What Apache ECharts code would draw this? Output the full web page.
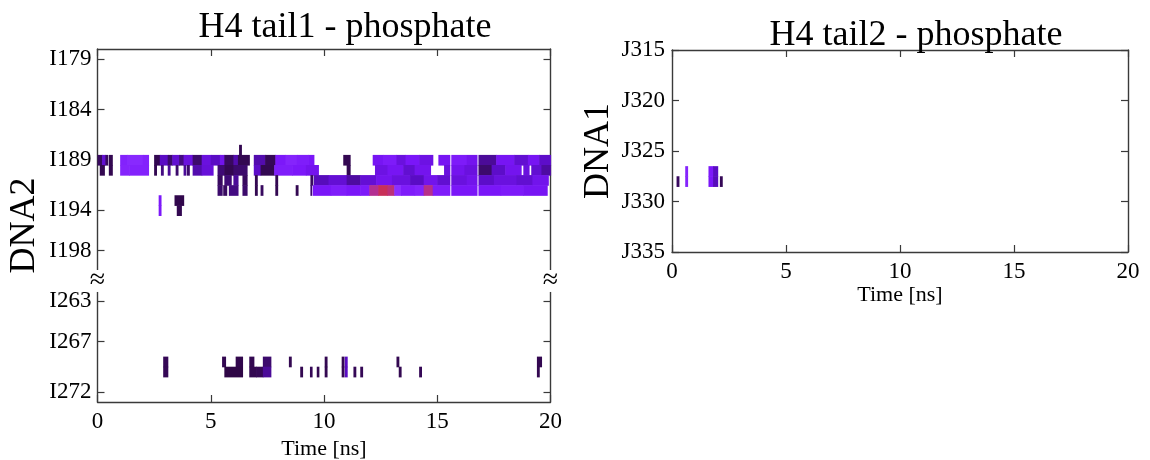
<!DOCTYPE html>
<html>
<head>
<meta charset="utf-8">
<script src="https://cdn.jsdelivr.net/npm/echarts@6/dist/echarts.min.js"></script>
<style>
  html, body { margin: 0; padding: 0; background: #fff; }
  #chart { width: 1150px; height: 460px; }
</style>
</head>
<body>
<div id="chart"></div>
<script>
// ---- Axis ranges and tick labels ----
const timeRange = [0, 20];
const tail1UpperRange = [178, 200];   // residues above the axis break
const tail1LowerRange = [262, 273];   // residues below the axis break
const tail1TickLabels = ['I179', 'I184', 'I189', 'I194', 'I198', 'I263', 'I267', 'I272'];
const tail2Range = [315, 335];

// ---- H4 tail1 contacts with DNA2: [start ns, end ns, intensity] per residue ----
const rowI188 = [[6.25, 6.35, 0.1]];
const rowI189 = [
  [0.0, 0.2, 0.15], [0.2, 0.35, 0.45], [0.35, 0.45, 0.15], [0.5, 0.65, 0.1],
  [1.0, 1.3, 0.7], [1.3, 2.0, 0.76], [2.0, 2.25, 0.7],
  [2.5, 2.75, 0.1], [2.75, 3.1, 0.4], [3.1, 3.3, 0.2], [3.3, 3.6, 0.45], [3.6, 3.8, 0.25],
  [3.8, 4.2, 0.5], [4.2, 4.6, 0.2], [4.6, 5.0, 0.5], [5.0, 5.4, 0.4], [5.4, 5.6, 0.55],
  [5.6, 6.0, 0.15], [6.0, 6.2, 0.35], [6.2, 6.7, 0.1],
  [6.9, 7.4, 0.35], [7.4, 7.85, 0.12], [7.85, 8.3, 0.62], [8.3, 8.8, 0.72], [8.8, 9.3, 0.66], [9.3, 9.55, 0.6],
  [10.85, 11.15, 0.1],
  [12.15, 12.6, 0.58], [12.6, 13.2, 0.64], [13.2, 13.6, 0.5], [13.6, 14.2, 0.6], [14.2, 14.8, 0.52],
  [15.05, 15.55, 0.58], [15.62, 16.3, 0.64], [16.3, 16.75, 0.56], [16.82, 17.6, 0.3],
  [17.6, 18.4, 0.58], [18.4, 19.0, 0.45], [19.0, 19.5, 0.58], [19.5, 20.0, 0.42]
];
const rowI190 = [
  [0.1, 0.3, 0.1], [0.5, 0.65, 0.1],
  [1.0, 1.4, 0.72], [1.4, 2.25, 0.7],
  [2.5, 2.6, 0.1], [2.8, 2.9, 0.25], [3.1, 3.2, 0.3], [3.45, 3.55, 0.2], [3.8, 3.9, 0.3], [3.95, 4.05, 0.2],
  [4.2, 4.6, 0.35], [4.6, 5.1, 0.48], [5.3, 5.6, 0.22], [5.6, 6.0, 0.1], [6.0, 6.6, 0.2],
  [6.9, 7.2, 0.42], [7.2, 7.8, 0.1], [7.8, 8.6, 0.66], [8.6, 9.2, 0.62], [9.2, 9.75, 0.56],
  [11.0, 11.15, 0.1],
  [12.25, 12.8, 0.52], [12.8, 13.5, 0.58], [13.5, 14.0, 0.45], [14.0, 14.7, 0.56],
  [15.3, 15.55, 0.5], [15.62, 16.2, 0.56], [16.2, 16.75, 0.5], [16.82, 17.4, 0.2], [17.4, 18.0, 0.42],
  [18.0, 18.7, 0.56], [18.8, 19.05, 0.5], [19.15, 19.6, 0.45], [19.6, 20.0, 0.32]
];
const rowI191 = [
  [5.3, 5.5, 0.15], [5.6, 5.9, 0.22], [6.0, 6.2, 0.3], [6.4, 6.6, 0.15], [6.95, 7.05, 0.1], [7.85, 7.95, 0.1],
  [9.4, 9.5, 0.15], [9.55, 10.2, 0.38], [10.2, 11.0, 0.46], [11.0, 11.6, 0.32], [11.6, 12.3, 0.46],
  [12.3, 13.0, 0.56], [13.0, 13.8, 0.5], [13.8, 14.4, 0.4], [14.4, 15.0, 0.55], [15.0, 15.55, 0.45],
  [15.62, 16.3, 0.5], [16.3, 16.75, 0.55], [16.82, 17.5, 0.42], [17.5, 18.5, 0.5], [18.5, 19.2, 0.45], [19.2, 19.9, 0.55]
];
const rowI192 = [
  [5.3, 5.5, 0.2], [5.55, 5.7, 0.15], [5.8, 6.2, 0.25], [6.4, 6.6, 0.2], [6.95, 7.05, 0.1], [7.2, 7.3, 0.15],
  [7.85, 7.95, 0.1], [8.75, 8.85, 0.1],
  [9.4, 9.45, 0.2], [9.5, 10.3, 0.6], [10.3, 11.0, 0.66], [11.0, 11.6, 0.6], [11.6, 12.0, 0.63],
  [12.0, 12.4, 0.93], [12.4, 12.8, 1.0], [12.8, 13.1, 0.96], [13.1, 13.4, 0.8], [13.4, 14.0, 0.65],
  [14.0, 14.4, 0.7], [14.4, 14.8, 0.94], [14.8, 15.55, 0.65], [15.62, 16.75, 0.6], [16.82, 17.8, 0.6],
  [17.8, 18.8, 0.63], [18.8, 19.85, 0.58]
];
const rowI193 = [[2.7, 2.8, 0.62], [3.4, 3.8, 0.08]];
const rowI194 = [[2.7, 2.8, 0.62], [3.5, 3.7, 0.1]];
const rowI269 = [
  [2.9, 3.1, 0.12], [5.5, 5.65, 0.1], [6.1, 6.4, 0.08], [6.7, 6.9, 0.1], [7.3, 7.65, 0.2],
  [8.45, 8.55, 0.1], [10.03, 10.13, 0.1], [10.78, 10.88, 0.1], [10.92, 11.02, 0.4], [13.2, 13.3, 0.1], [19.4, 19.6, 0.1]
];
const rowI270 = [
  [2.9, 3.1, 0.12], [5.6, 6.4, 0.06], [6.7, 7.0, 0.1], [7.0, 7.3, 0.12], [7.3, 7.65, 0.3],
  [8.95, 9.05, 0.1], [9.38, 9.47, 0.12], [9.68, 9.77, 0.1], [10.03, 10.13, 0.1], [10.78, 10.88, 0.1],
  [10.92, 11.02, 0.4], [11.3, 11.4, 0.12], [11.6, 11.7, 0.12], [13.3, 13.4, 0.1], [14.2, 14.3, 0.12], [19.4, 19.5, 0.1]
];

// ---- H4 tail2 contacts with DNA1 ----
const rowJ327 = [[0.58, 0.68, 0.72], [1.6, 1.8, 0.62], [1.8, 2.0, 0.4]];
const rowJ328 = [[0.2, 0.3, 0.15], [0.58, 0.68, 0.72], [1.6, 1.8, 0.6], [1.8, 2.0, 0.38], [2.1, 2.2, 0.12]];

// ---- Build axis categories and series data ----
const BREAK = '\u2248';
const tail1Rows = [];
for (let r = tail1UpperRange[0]; r <= tail1UpperRange[1]; r++) tail1Rows.push('I' + r);
tail1Rows.push(BREAK);
for (let r = tail1LowerRange[0]; r <= tail1LowerRange[1]; r++) tail1Rows.push('I' + r);

function toItems(segments, row) {
  return segments.map(s => [s[0], s[1], row, s[2]]);
}
const tail1Data = [].concat(
  toItems(rowI188, 'I188'), toItems(rowI189, 'I189'), toItems(rowI190, 'I190'),
  toItems(rowI191, 'I191'), toItems(rowI192, 'I192'), toItems(rowI193, 'I193'),
  toItems(rowI194, 'I194'), toItems(rowI269, 'I269'), toItems(rowI270, 'I270')
);
const tail2Data = [].concat(toItems(rowJ327, 327), toItems(rowJ328, 328));

// ---- Styling ----
const FONT = "'Liberation Serif', 'Times New Roman', serif";
const AXIS_COLOR = '#3a3a3a';
const axisLine = { show: true, onZero: false, lineStyle: { color: AXIS_COLOR, width: 1.4 } };
const tick = { show: true, inside: true, length: 7, lineStyle: { color: AXIS_COLOR, width: 1.2 } };
const tickLabel = { fontFamily: FONT, fontSize: 23, color: '#000' };
const showTail1Tick = (idx, val) => tail1TickLabels.indexOf(val) >= 0;

function timeAxis(gridIndex, bottom, nameGap) {
  return {
    type: 'value', gridIndex, position: bottom ? 'bottom' : 'top',
    min: timeRange[0], max: timeRange[1], interval: 5,
    axisLine, axisTick: tick, splitLine: { show: false },
    axisLabel: Object.assign({ show: bottom, margin: 8 }, tickLabel),
    name: bottom ? 'Time [ns]' : '', nameLocation: 'middle', nameGap: nameGap || 27,
    nameTextStyle: { fontFamily: FONT, fontSize: 22, color: '#000' }
  };
}

// One contact block: spans [start, end] in time and one residue row
function renderCell(params, api) {
  const row = api.value(2);
  const p0 = api.coord([api.value(0), row]);
  const p1 = api.coord([api.value(1), row]);
  const h = api.size([0, 1])[1];
  return {
    type: 'rect',
    shape: { x: p0[0], y: p0[1] - h / 2, width: p1[0] - p0[0] + 0.6, height: h + 0.6 },
    style: { fill: api.visual('color') }
  };
}

const chart = echarts.init(document.getElementById('chart'), null, { renderer: 'canvas' });
chart.setOption({
  animation: false,
  backgroundColor: '#fff',
  title: [
    { text: 'H4 tail1 - phosphate', left: 340, top: 5, textAlign: 'center',
      textStyle: { fontFamily: FONT, fontSize: 36, fontWeight: 'normal', color: '#000' } },
    { text: 'H4 tail2 - phosphate', left: 911, top: 13, textAlign: 'center',
      textStyle: { fontFamily: FONT, fontSize: 36, fontWeight: 'normal', color: '#000' } }
  ],
  grid: [
    { left: 97.5, top: 49, width: 453, height: 353, outerBoundsMode: 'none', containLabel: false },
    { left: 672, top: 50, width: 456, height: 202, outerBoundsMode: 'none', containLabel: false }
  ],
  xAxis: [timeAxis(0, true, 22), timeAxis(0, false), timeAxis(1, true, 28), timeAxis(1, false)],
  yAxis: [
    { type: 'category', gridIndex: 0, position: 'left', data: tail1Rows, inverse: true, boundaryGap: false,
      axisLine, axisTick: Object.assign({ interval: showTail1Tick }, tick),
      axisLabel: Object.assign({ interval: showTail1Tick, margin: 6 }, tickLabel),
      splitLine: { show: false },
      name: 'DNA2', nameLocation: 'middle', nameGap: 55,
      nameTextStyle: { fontFamily: FONT, fontSize: 36, color: '#000' } },
    { type: 'category', gridIndex: 0, position: 'right', data: tail1Rows, inverse: true, boundaryGap: false,
      axisLine, axisTick: Object.assign({ interval: showTail1Tick }, tick),
      axisLabel: { show: false }, splitLine: { show: false } },
    { type: 'value', gridIndex: 1, position: 'left', min: tail2Range[0], max: tail2Range[1], interval: 5, inverse: true,
      axisLine, axisTick: tick, splitLine: { show: false },
      axisLabel: Object.assign({ margin: 7, formatter: 'J{value}' }, tickLabel),
      name: 'DNA1', nameLocation: 'middle', nameGap: 55,
      nameTextStyle: { fontFamily: FONT, fontSize: 36, color: '#000' } },
    { type: 'value', gridIndex: 1, position: 'right', min: tail2Range[0], max: tail2Range[1], interval: 5, inverse: true,
      axisLine, axisTick: tick, splitLine: { show: false }, axisLabel: { show: false } }
  ],
  visualMap: {
    show: false, type: 'continuous', min: 0, max: 1, dimension: 3, seriesIndex: [0, 1],
    inRange: { color: ['#2a0536', '#3c0a6c', '#5a0cc4', '#7a16f8', '#8c2eff', '#c83058'] }
  },
  series: [
    { type: 'custom', name: 'tail1', xAxisIndex: 0, yAxisIndex: 0, renderItem: renderCell,
      dimensions: [{ name: 't0', type: 'float' }, { name: 't1', type: 'float' }, { name: 'row', type: 'ordinal' }, { name: 'v', type: 'float' }],
      encode: { x: [0, 1], y: 2 }, data: tail1Data },
    { type: 'custom', name: 'tail2', xAxisIndex: 2, yAxisIndex: 2, renderItem: renderCell,
      dimensions: [{ name: 't0', type: 'float' }, { name: 't1', type: 'float' }, { name: 'row', type: 'float' }, { name: 'v', type: 'float' }],
      encode: { x: [0, 1], y: 2 }, data: tail2Data }
  ]
});

// Axis-break marks on both vertical borders of the tail1 panel
const gapLeft = chart.convertToPixel({ xAxisIndex: 0, yAxisIndex: 0 }, [timeRange[0], BREAK]);
const gapRight = chart.convertToPixel({ xAxisIndex: 0, yAxisIndex: 0 }, [timeRange[1], BREAK]);
const breakMark = p => [
  { type: 'rect', z: 100, shape: { x: p[0] - 4, y: p[1] - 11, width: 8, height: 22 }, style: { fill: '#fff' } },
  { type: 'text', z: 101, x: p[0], y: p[1],
    style: { text: BREAK, font: "28px 'Liberation Serif', serif", fill: '#000', align: 'center', verticalAlign: 'middle' } }
];
chart.setOption({ graphic: breakMark(gapLeft).concat(breakMark(gapRight)) });
</script>
</body>
</html>
